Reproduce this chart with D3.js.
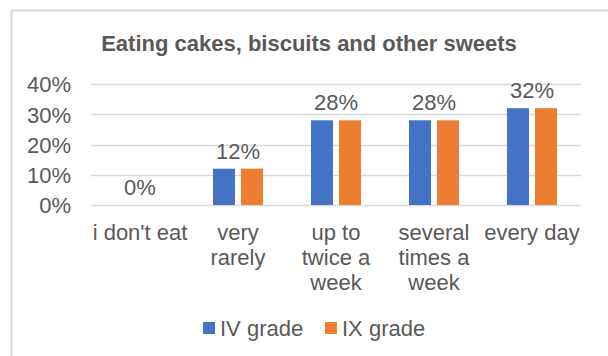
<!DOCTYPE html>
<html lang="en">
<head>
    <meta charset="UTF-8">
    <title>Eating cakes, biscuits and other sweets</title>
    <script src="https://d3js.org/d3.v7.min.js"></script>
    <style>
        body { margin: 0; background: #fff; }
        text { font-family: "Liberation Sans", Arial, sans-serif; fill: #595959; }
    </style>
</head>
<body>
<script type="text/javascript">
    var categories = ["i don't eat", "very rarely", "up to twice a week", "several times a week", "every day"];
    // how each category label is broken into lines
    var categoryLines = [["i don't eat"], ["very", "rarely"], ["up to", "twice a", "week"], ["several", "times a", "week"], ["every day"]];
    var seriesNames = ["IV grade", "IX grade"];
    var ivGrade = [0, 0.12, 0.28, 0.28, 0.32];
    var ixGrade = [0, 0.12, 0.28, 0.28, 0.32];
    var yTicks = [0, 0.1, 0.2, 0.3, 0.4];
    var colors = ["#4472C4", "#ED7D31"];

    var svgWidth = 608;
    var svgHeight = 356;
    var plotLeft = 91, plotRight = 581, plotTop = 84, plotBottom = 205;

    var svg = d3.select("body").append("svg")
        .attr("width", svgWidth)
        .attr("height", svgHeight);

    // chart frame
    svg.append("rect")
        .attr("x", 11.5)
        .attr("y", 10.5)
        .attr("width", 620)
        .attr("height", 360)
        .attr("fill", "#fff")
        .attr("stroke", "#d9d9d9")
        .attr("stroke-width", 2);

    svg.append("text")
        .attr("x", 309)
        .attr("y", 51)
        .attr("text-anchor", "middle")
        .attr("font-size", "22px")
        .attr("font-weight", "bold")
        .text("Eating cakes, biscuits and other sweets");

    var xScale = d3.scaleBand()
        .domain(categories)
        .range([plotLeft, plotRight]);

    var yScale = d3.scaleLinear()
        .domain([0, 0.4])
        .range([plotBottom, plotTop]);

    var barWidth = 22;
    var barGap = 6;
    var xSub = d3.scaleOrdinal()
        .domain(seriesNames)
        .range([-barGap / 2 - barWidth, barGap / 2]);

    // gridlines
    svg.append("g")
        .selectAll("line")
        .data(yTicks)
        .enter()
        .append("line")
        .attr("x1", plotLeft)
        .attr("x2", plotRight)
        .attr("y1", function (d) { return Math.round(yScale(d)) + 0.5; })
        .attr("y2", function (d) { return Math.round(yScale(d)) + 0.5; })
        .attr("stroke", "#d9d9d9")
        .attr("stroke-width", 1.5);

    // y axis
    var yAxis = d3.axisLeft(yScale)
        .tickValues(yTicks)
        .tickFormat(d3.format(".0%"))
        .tickSize(0)
        .tickPadding(20);
    var yAxisG = svg.append("g")
        .attr("transform", "translate(" + plotLeft + ",0)")
        .call(yAxis);
    yAxisG.select(".domain").remove();
    yAxisG.selectAll("text")
        .attr("font-family", null)
        .attr("font-size", "22px")
        .attr("dy", "0.36em");

    var data = categories.map(function (c, i) {
        return { cat: c, values: [ivGrade[i], ixGrade[i]] };
    });

    // bars
    seriesNames.forEach(function (name, s) {
        svg.append("g")
            .selectAll("rect")
            .data(data)
            .enter()
            .append("rect")
            .attr("x", function (d) { return xScale(d.cat) + xScale.bandwidth() / 2 + xSub(name); })
            .attr("y", function (d) { return yScale(d.values[s]); })
            .attr("width", barWidth)
            .attr("height", function (d) { return plotBottom - yScale(d.values[s]); })
            .attr("fill", colors[s]);
    });

    // value labels
    svg.append("g")
        .selectAll("text")
        .data(data)
        .enter()
        .append("text")
        .attr("x", function (d) { return xScale(d.cat) + xScale.bandwidth() / 2; })
        .attr("y", function (d) { return yScale(d3.max(d.values)) - 10; })
        .attr("text-anchor", "middle")
        .attr("font-size", "22px")
        .text(function (d) { return d3.format(".0%")(d3.max(d.values)); });

    // category labels
    var catG = svg.append("g")
        .selectAll("text")
        .data(data)
        .enter()
        .append("text")
        .attr("x", function (d) { return xScale(d.cat) + xScale.bandwidth() / 2; })
        .attr("y", 240)
        .attr("text-anchor", "middle")
        .attr("font-size", "22px");
    catG.each(function (d, i) {
        d3.select(this).selectAll("tspan")
            .data(categoryLines[i])
            .enter()
            .append("tspan")
            .attr("x", xScale(d.cat) + xScale.bandwidth() / 2)
            .attr("dy", function (l, j) { return j === 0 ? 0 : 25; })
            .text(function (l) { return l; });
    });

    // legend
    var legendX = [203, 325];
    var legend = svg.append("g")
        .selectAll("g")
        .data(seriesNames)
        .enter()
        .append("g")
        .attr("transform", function (d, i) { return "translate(" + legendX[i] + ",322)"; });
    legend.append("rect")
        .attr("width", 12)
        .attr("height", 12)
        .attr("fill", function (d, i) { return colors[i]; });
    legend.append("text")
        .attr("x", 17)
        .attr("y", 14)
        .attr("font-size", "22px")
        .text(function (d) { return d; });
</script>
</body>
</html>
